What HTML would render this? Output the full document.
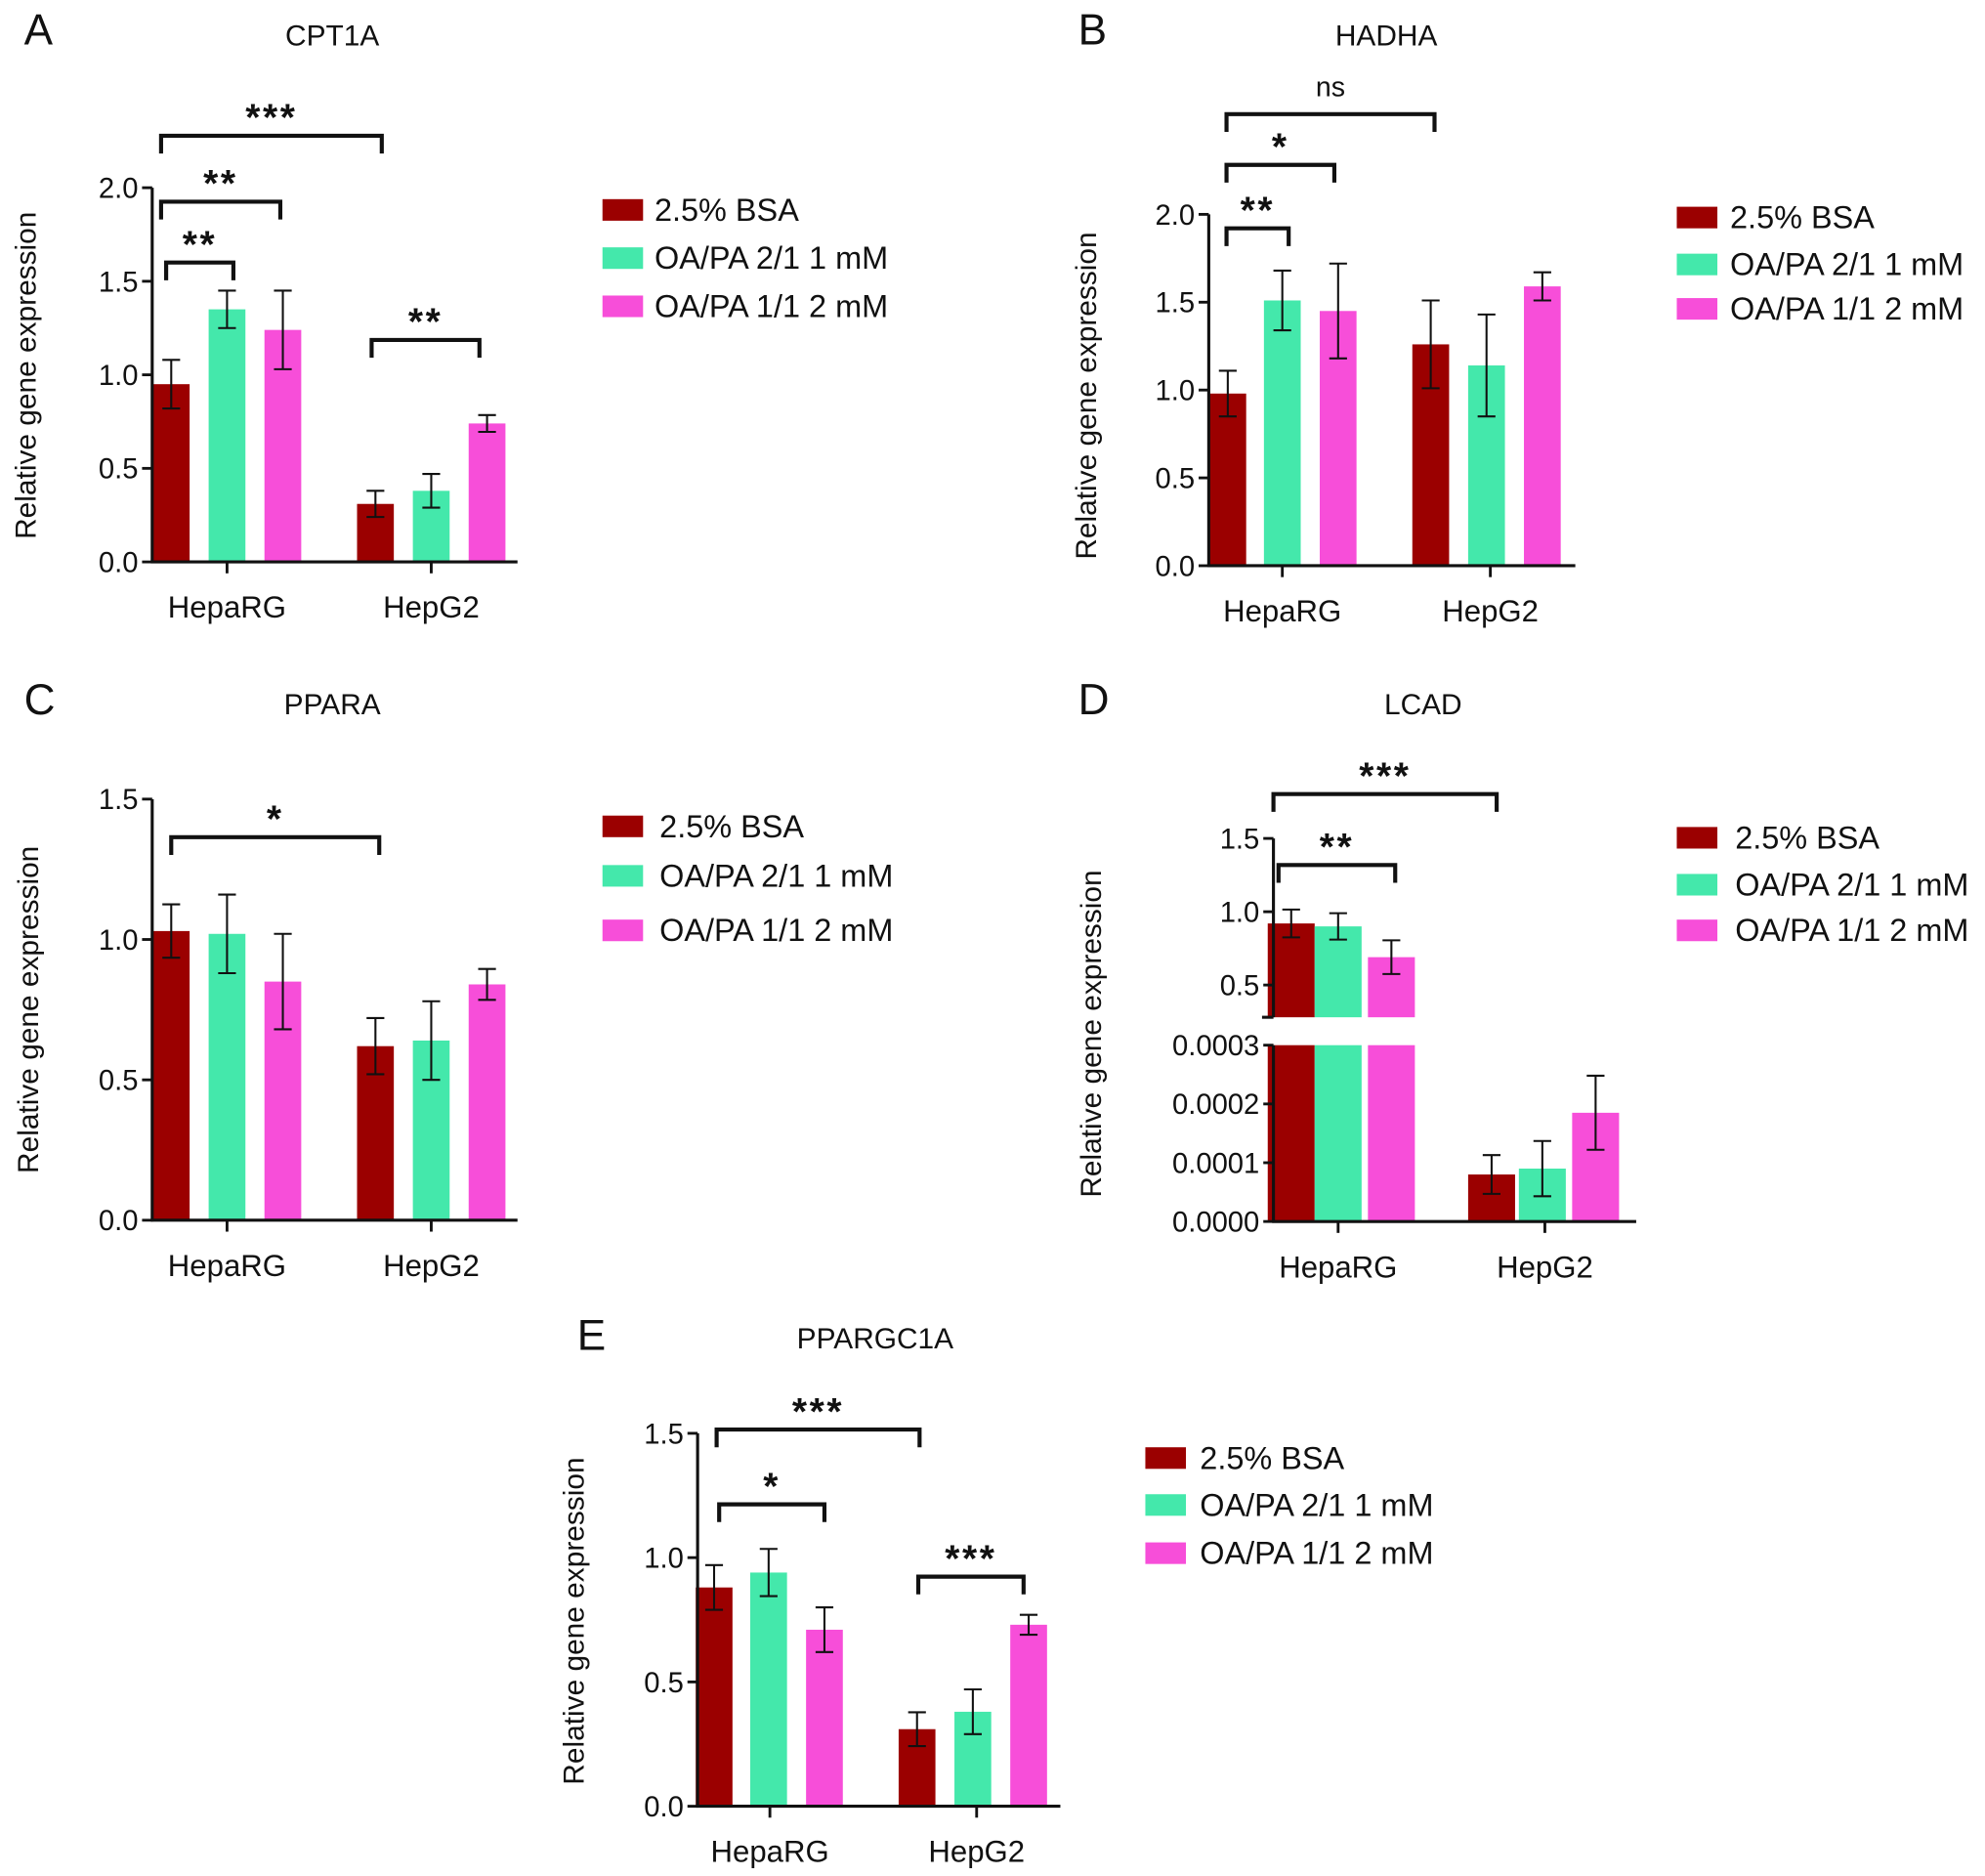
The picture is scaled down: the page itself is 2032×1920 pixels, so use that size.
<!DOCTYPE html>
<html><head><meta charset="utf-8">
<style>
html,body{margin:0;padding:0;background:#fff;}
svg{display:block;}
text{font-family:"Liberation Sans",Arial,sans-serif;fill:#111;}
</style></head>
<body>
<svg id="fig" width="2032" height="1920" viewBox="0 0 1565 1479" preserveAspectRatio="none" xmlns="http://www.w3.org/2000/svg"></svg>
<script>
const categories = ["HepaRG", "HepG2"];
const seriesNames = ["2.5% BSA", "OA/PA 2/1 1 mM", "OA/PA 1/1 2 mM"];
const seriesColors = ["#9b0000", "#44e8ab", "#f74ed9"];

// CPT1A
const cpt1aMean = [[0.95, 1.35, 1.24], [0.31, 0.38, 0.74]];
const cpt1aErr  = [[0.13, 0.10, 0.21], [0.07, 0.09, 0.045]];
const cpt1aTicks = [0, 0.5, 1.0, 1.5, 2.0];
// HADHA
const hadhaMean = [[0.98, 1.51, 1.45], [1.26, 1.14, 1.59]];
const hadhaErr  = [[0.13, 0.17, 0.27], [0.25, 0.29, 0.08]];
const hadhaTicks = [0, 0.5, 1.0, 1.5, 2.0];
// PPARA
const pparaMean = [[1.03, 1.02, 0.85], [0.62, 0.64, 0.84]];
const pparaErr  = [[0.095, 0.14, 0.17], [0.10, 0.14, 0.055]];
const pparaTicks = [0, 0.5, 1.0, 1.5];
// LCAD (broken axis)
const lcadMean = [[0.92, 0.90, 0.69], [0.00008, 0.00009, 0.000185]];
const lcadErr  = [[0.095, 0.09, 0.115], [0.000033, 0.000047, 0.000063]];
const lcadTopTicks = [0.5, 1.0, 1.5];
const lcadBotTicks = [0, 0.0001, 0.0002, 0.0003];
// PPARGC1A
const pgcMean = [[0.88, 0.94, 0.71], [0.31, 0.38, 0.73]];
const pgcErr  = [[0.09, 0.095, 0.09], [0.068, 0.09, 0.04]];
const pgcTicks = [0, 0.5, 1.0, 1.5];

const NS = "http://www.w3.org/2000/svg";
const svg = document.getElementById("fig");
function el(tag, attrs, parent, txt) {
  const e = document.createElementNS(NS, tag);
  for (const k in attrs) e.setAttribute(k, attrs[k]);
  if (txt !== undefined) e.textContent = txt;
  (parent || svg).appendChild(e);
  return e;
}
function line(g, x1, y1, x2, y2, w) {
  return el("line", {x1, y1, x2, y2, stroke: "#111", "stroke-width": w || 2}, g);
}

function drawPanel(p) {
  const g = el("g", {}, svg);
  
  
  const letter = el("text", {x: p.letterX, y: p.letterY, "font-size": 34}, g, p.letter);
  
  
  const title = el("text", {x: p.titleX, y: p.titleY, "font-size": 23, "text-anchor": "middle"}, g, p.title);
  
  
  const yt = el("text", {x: 0, y: 0, "font-size": 23, "text-anchor": "middle",
    transform: `translate(${p.ytX},${p.ytY}) rotate(-90)`}, g, "Relative gene expression");
  
  

  const segs = p.segs;
  function yOf(v, s) { return s.yLo + (v - s.lo) / (s.hi - s.lo) * (s.yHi - s.yLo); }

  p.mean.forEach((grp, gi) => {
    grp.forEach((v, si) => {
      const cx = p.barX[gi][si];
      const x = cx - p.bw / 2;
      const err = p.err[gi][si];
      segs.forEach((s) => {
        let top;
        if (v >= s.hi) top = s.yHi; else if (v <= s.lo) return; else top = yOf(v, s);
        const b = el("rect", {x, y: top, width: p.bw, height: s.yLo - top, fill: seriesColors[si]}, g);
        
        
        if (v > s.lo && v < s.hi) {
          const y1 = yOf(v + err, s), y2 = yOf(v - err, s);
          const eg = el("g", {}, g);
          
          
          line(eg, cx, y1, cx, y2, 1.6);
          line(eg, cx - 7, y1, cx + 7, y1, 1.6);
          line(eg, cx - 7, y2, cx + 7, y2, 1.6);
        }
      });
    });
  });

  segs.forEach(s => {
    const ax = line(g, p.axX, s.yLo + (s.bottom ? 1 : 0), p.axX, s.yHi, 2.4);
    
    
    if (s.capLo) line(g, p.axX - 9, s.yLo, p.axX, s.yLo, 2.4);
    s.ticks.forEach(t => {
      const y = yOf(t, s);
      line(g, p.axX - 8, y, p.axX, y, 2.2);
      const tl = el("text", {x: p.axX - 11, y: y + 8, "font-size": 22.5, "text-anchor": "end"}, g, s.fmt(t));
      
      
    });
  });
  const base = segs[segs.length - 1].yLo;
  const xa = line(g, p.axX - 1, base, p.axEnd, base, 2.4);
  
  
  categories.forEach((c, gi) => {
    const cx = p.catX[gi];
    line(g, cx, base, cx, base + 9, 2.2);
    const cl = el("text", {x: cx, y: base + 44, "font-size": 24, "text-anchor": "middle"}, g, c);
    
    
  });

  p.brackets.forEach(b => {
    const bg = el("g", {}, g);
    
    
    el("path", {d: `M${b.x1},${b.y + 14} V${b.y} H${b.x2} V${b.y + 14}`, fill: "none", stroke: "#111", "stroke-width": 3.2}, bg);
    const isNs = b.label === "ns";
    el("text", {x: (b.x1 + b.x2) / 2, y: b.y - (isNs ? 14 : 4), "font-size": isNs ? 22 : 30,
      "font-weight": isNs ? "normal" : "bold", "text-anchor": "middle", "letter-spacing": isNs ? 0 : 2}, bg, b.label);
  });

  seriesNames.forEach((n, si) => {
    const lg = el("g", {}, g);
    
    
    const y = p.legY[si];
    el("rect", {x: p.legX, y: y - 8, width: 32, height: 17, fill: seriesColors[si]}, lg);
    el("text", {x: p.legTX, y: y + 9, "font-size": 25}, lg, n);
  });
}

const f1 = t => t.toFixed(1), f4 = t => t.toFixed(4);
const gx1 = [[135, 179, 223], [296, 340, 384]];

drawPanel({name: "cpt1a", letter: "A", letterX: 19, letterY: 35, title: "CPT1A", titleX: 262, titleY: 36,
  ytX: 28, ytY: 296, axX: 120, axEnd: 408, bw: 29, barX: gx1, catX: [179, 340],
  mean: cpt1aMean, err: cpt1aErr,
  segs: [{lo: 0, hi: 2.0, yLo: 443, yHi: 148, ticks: cpt1aTicks, fmt: f1, bottom: true}],
  brackets: [{x1: 127, x2: 301, y: 107, label: "***"}, {x1: 127, x2: 221, y: 159, label: "**"},
             {x1: 131, x2: 184, y: 207, label: "**"}, {x1: 293, x2: 378, y: 268, label: "**"}],
  legX: 475, legTX: 516, legY: [165, 203, 241]});

drawPanel({name: "hadha", letter: "B", letterX: 850, letterY: 35, title: "HADHA", titleX: 1093, titleY: 36,
  ytX: 864, ytY: 312, axX: 953, axEnd: 1242, bw: 29, barX: [[968, 1011, 1055], [1128, 1172, 1216]], catX: [1011, 1175],
  mean: hadhaMean, err: hadhaErr,
  segs: [{lo: 0, hi: 2.0, yLo: 446, yHi: 169, ticks: hadhaTicks, fmt: f1, bottom: true}],
  brackets: [{x1: 967, x2: 1131, y: 90, label: "ns"}, {x1: 967, x2: 1052, y: 130, label: "*"},
             {x1: 967, x2: 1016, y: 180, label: "**"}],
  legX: 1322, legTX: 1364, legY: [171, 208, 243]});

drawPanel({name: "ppara", letter: "C", letterX: 19, letterY: 563, title: "PPARA", titleX: 262, titleY: 563,
  ytX: 30, ytY: 796, axX: 120, axEnd: 408, bw: 29, barX: gx1, catX: [179, 340],
  mean: pparaMean, err: pparaErr,
  segs: [{lo: 0, hi: 1.5, yLo: 962, yHi: 630, ticks: pparaTicks, fmt: f1, bottom: true}],
  brackets: [{x1: 135, x2: 299, y: 660, label: "*"}],
  legX: 475, legTX: 520, legY: [651, 690, 733]});

drawPanel({name: "lcad", letter: "D", letterX: 850, letterY: 563, title: "LCAD", titleX: 1122, titleY: 563,
  ytX: 868, ytY: 815, axX: 1004, axEnd: 1290, bw: 37, barX: [[1018, 1055, 1097], [1176, 1216, 1258]], catX: [1055, 1218],
  mean: lcadMean, err: lcadErr,
  segs: [{lo: 0.28, hi: 1.5, yLo: 802, yHi: 661, ticks: lcadTopTicks, fmt: f1, capLo: true},
         {lo: 0, hi: 0.0003, yLo: 963, yHi: 824, ticks: lcadBotTicks, fmt: f4, bottom: true}],
  brackets: [{x1: 1004, x2: 1180, y: 626, label: "***"}, {x1: 1008, x2: 1100, y: 682, label: "**"}],
  legX: 1322, legTX: 1368, legY: [660, 697, 733]});

drawPanel({name: "ppargc1a", letter: "E", letterX: 455, letterY: 1064, title: "PPARGC1A", titleX: 690, titleY: 1063,
  ytX: 460, ytY: 1278, axX: 550, axEnd: 836, bw: 29, barX: [[563, 606, 650], [723, 767, 811]], catX: [607, 770],
  mean: pgcMean, err: pgcErr,
  segs: [{lo: 0, hi: 1.5, yLo: 1424, yHi: 1130, ticks: pgcTicks, fmt: f1, bottom: true}],
  brackets: [{x1: 565, x2: 725, y: 1127, label: "***"}, {x1: 567, x2: 650, y: 1186, label: "*"},
             {x1: 724, x2: 807, y: 1243, label: "***"}],
  legX: 903, legTX: 946, legY: [1149, 1186, 1224]});
</script>
</body></html>
